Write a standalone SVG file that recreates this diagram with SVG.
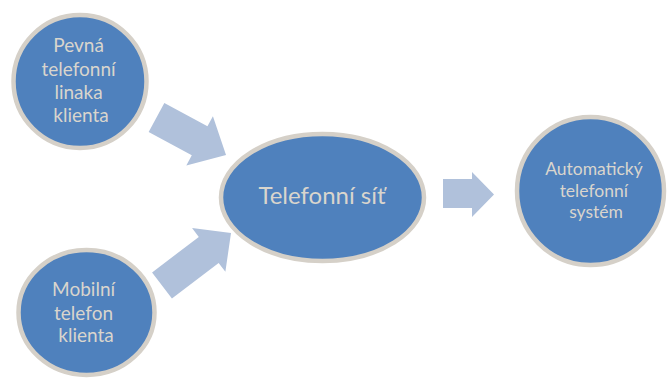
<svg xmlns="http://www.w3.org/2000/svg" width="667" height="379" viewBox="0 0 667 379">
  <style>
    .node { fill: #4F81BD; stroke: #D5D0C8; stroke-width: 4.5; }
    .lbl { fill: #D9D5CD; font-family: Lato, "Open Sans", "DejaVu Sans", sans-serif; text-anchor: middle; }
    .arrow { fill: #B0C1DB; }
  </style>
  <rect width="667" height="379" fill="#FFFFFF"/>

  <g id="connectors">
    <polygon class="arrow" transform="translate(156.5 117.5) rotate(28.35)"
             points="0,-16.5 49,-16.5 49,-28 79,0 49,28 49,16.5 0,16.5"/>
    <polygon class="arrow" transform="translate(162 285.5) rotate(-37.26)"
             points="0,-16.4 58.7,-16.4 58.7,-27.5 86.7,0 58.7,27.5 58.7,16.4 0,16.4"/>
    <polygon class="arrow" points="443,179 472,179 472,172 494,194.5 472,217 472,208 443,208"/>
  </g>

  <g id="pevna-linka">
    <circle class="node" cx="80" cy="81.5" r="66.5"/>
    <text class="lbl" font-size="19" x="81">
      <tspan x="81" y="52">Pevná</tspan>
      <tspan x="81" y="76">telefonní</tspan>
      <tspan x="81" y="99">linaka</tspan>
      <tspan x="81" y="122">klienta</tspan>
    </text>
  </g>

  <g id="mobilni-telefon">
    <ellipse class="node" cx="86.5" cy="312.5" rx="68" ry="62.5"/>
    <text class="lbl" font-size="19" x="86">
      <tspan x="86" y="296">Mobilní</tspan>
      <tspan x="86" y="320">telefon</tspan>
      <tspan x="86" y="342">klienta</tspan>
    </text>
  </g>

  <g id="telefonni-sit">
    <ellipse class="node" cx="322.5" cy="197.5" rx="101.5" ry="63.5"/>
    <text class="lbl" font-size="24" x="322" y="204">Telefonní síť</text>
  </g>

  <g id="automaticky-system">
    <ellipse class="node" cx="590.5" cy="191" rx="73.5" ry="74"/>
    <text class="lbl" font-size="17.5" x="596">
      <tspan x="596" y="175">Automatický</tspan>
      <tspan x="596" y="197">telefonní</tspan>
      <tspan x="596" y="218">systém</tspan>
    </text>
  </g>
</svg>
